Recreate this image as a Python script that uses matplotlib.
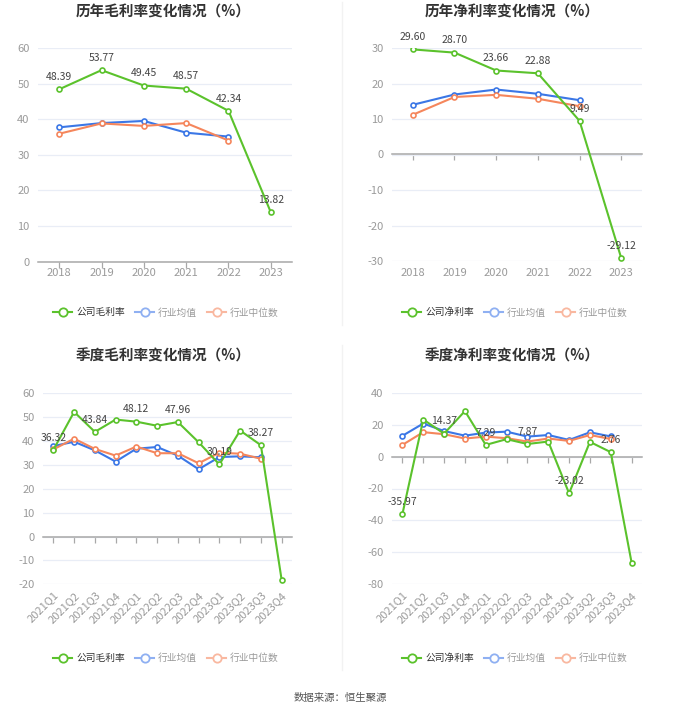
import matplotlib
matplotlib.use("Agg")
import matplotlib.pyplot as plt
from matplotlib.lines import Line2D

plt.rcParams['font.family'] = ['Noto Sans CJK SC', 'DejaVu Sans']
plt.rcParams['axes.unicode_minus'] = False

# ---------------- data ----------------
years = ['2018', '2019', '2020', '2021', '2022', '2023']
gm_company = [48.39, 53.77, 49.45, 48.57, 42.34, 13.82]
gm_mean = [37.7, 38.9, 39.5, 36.2, 35.1]
gm_median = [35.9, 38.8, 38.1, 38.9, 34.0]

nm_company = [29.60, 28.70, 23.66, 22.88, 9.49, -29.12]
nm_mean = [14.0, 16.9, 18.3, 17.1, 15.3]
nm_median = [11.2, 16.2, 16.8, 15.7, 13.6]

quarters = ['2021Q1', '2021Q2', '2021Q3', '2021Q4', '2022Q1', '2022Q2',
            '2022Q3', '2022Q4', '2023Q1', '2023Q2', '2023Q3', '2023Q4']
qgm_company = [36.32, 52.2, 43.84, 49.0, 48.12, 46.4, 47.96, 39.5, 30.19, 44.4, 38.27, -18.1]
qgm_mean = [37.9, 39.7, 36.1, 31.4, 36.8, 37.5, 33.9, 28.2, 33.3, 33.6, 33.2]
qgm_median = [36.5, 41.0, 36.7, 33.9, 37.7, 34.9, 34.9, 30.7, 35.1, 34.7, 32.6]

qnm_company = [-35.97, 23.2, 14.37, 28.5, 7.29, 10.9, 7.87, 9.4, -23.02, 9.2, 2.76, -66.4]
qnm_mean = [13.0, 20.7, 16.0, 13.1, 15.0, 15.6, 12.5, 13.5, 10.4, 15.2, 12.6]
qnm_median = [7.3, 15.3, 14.0, 11.3, 12.5, 11.5, 9.4, 11.3, 9.8, 13.5, 11.0]

titles = ['历年毛利率变化情况（%）', '历年净利率变化情况（%）',
          '季度毛利率变化情况（%）', '季度净利率变化情况（%）']
company_names = ['公司毛利率', '公司净利率', '公司毛利率', '公司净利率']
mean_name = '行业均值'
median_name = '行业中位数'
source = '数据来源：恒生聚源'

GREEN = '#5bc22c'
BLUE = '#3b77e6'
ORANGE = '#f5865c'
GREEN_L = '#5bc22c'
BLUE_L = '#8fb0f2'
ORANGE_L = '#f9b8a0'

W, H = 680, 712
fig = plt.figure(figsize=(W / 100, H / 100), dpi=100)
fig.patch.set_facecolor('white')


def frac_box(l, r, t, b):
    return [l / W, 1 - b / H, (r - l) / W, (b - t) / H]


panels = [
    dict(box=frac_box(38, 292, 48, 261.5), cats=years, comp=gm_company, mean=gm_mean,
         med=gm_median, ylim=(0, 60), yt=range(0, 61, 10), label_every=1, rot=False,
         tx=163, ty=12, ly=312.5, lx=166),
    dict(box=frac_box(392, 642, 48, 261), cats=years, comp=nm_company, mean=nm_mean,
         med=nm_median, ylim=(-30, 30), yt=range(-30, 31, 10), label_every=1, rot=False,
         tx=512, ty=12, ly=312.5, lx=515),
    dict(box=frac_box(43, 292, 393.3, 584.3), cats=quarters, comp=qgm_company, mean=qgm_mean,
         med=qgm_median, ylim=(-20, 60), yt=range(-20, 61, 10), label_every=2, rot=True,
         tx=163, ty=356, ly=658, lx=166),
    dict(box=frac_box(392, 642, 392.7, 584.3), cats=quarters, comp=qnm_company, mean=qnm_mean,
         med=qnm_median, ylim=(-80, 40), yt=range(-80, 41, 20), label_every=2, rot=True,
         tx=512, ty=356, ly=658, lx=515),
]

for i, p in enumerate(panels):
    ax = fig.add_axes(p['box'])
    n = len(p['cats'])
    xs = list(range(n))
    ax.set_xlim(-0.5, n - 0.5)
    ax.set_ylim(*p['ylim'])
    ax.set_yticks(list(p['yt']))
    ax.grid(axis='y', color='#e9edf6', lw=0.9)
    ax.set_axisbelow(True)
    for s in ['left', 'right', 'bottom']:
        ax.spines[s].set_visible(False)
    ax.spines['top'].set_position(('data', 0))
    ax.spines['top'].set_color('#a8a8a8')
    ax.spines['top'].set_linewidth(1.1)
    ax.spines['top'].set_zorder(2)
    ax.tick_params(axis='y', length=0, labelsize=8, labelcolor='#9a9a9a', pad=6)
    ax.set_xticks(xs)
    ax.tick_params(axis='x', which='both', bottom=False, top=True, labeltop=False,
                   labelbottom=True, direction='in', length=4, width=0.9,
                   color='#a8a8a8', labelsize=8, labelcolor='#9a9a9a', pad=5)
    if p['rot']:
        ax.set_xticklabels(p['cats'], rotation=45, ha='right', rotation_mode='anchor')
        ax.tick_params(axis='x', pad=4)
    else:
        ax.set_xticklabels(p['cats'])

    mk = dict(marker='o', markersize=3.6, markerfacecolor='white', markeredgewidth=1.2)
    ax.plot(xs[:len(p['mean'])], p['mean'], color=BLUE, lw=1.5, zorder=3, **mk)
    ax.plot(xs[:len(p['med'])], p['med'], color=ORANGE, lw=1.5, zorder=3, **mk)
    ax.plot(xs, p['comp'], color=GREEN, lw=1.5, zorder=4, **mk)

    for j, v in enumerate(p['comp']):
        if j % p['label_every'] == 0:
            ax.annotate(f'{v:.2f}', (xs[j], v), xytext=(0, 8.8), textcoords='offset points',
                        ha='center', va='center', fontsize=7.5, color='#444444', zorder=6)

    fig.text(p['tx'] / W, 1 - p['ty'] / H, titles[i], ha='center', va='center',
             fontsize=10.5, fontweight='bold', color='#333333')

    lm = dict(marker='o', markersize=6, markerfacecolor='white', markeredgewidth=1.3, lw=1.5)
    handles = [Line2D([], [], color=GREEN_L, **lm),
               Line2D([], [], color=BLUE_L, **lm),
               Line2D([], [], color=ORANGE_L, **lm)]
    leg = fig.legend(handles, [company_names[i], mean_name, median_name],
                     loc='center', bbox_to_anchor=(p['lx'] / W, 1 - p['ly'] / H),
                     ncol=3, frameon=False, fontsize=7, handlelength=2.0,
                     handletextpad=0.4, columnspacing=1.0)
    cols = ['#333333', '#999999', '#999999']
    for t, c in zip(leg.get_texts(), cols):
        t.set_color(c)

# faint panel separators
fig.add_artist(Line2D([342 / W, 342 / W], [1 - 2 / H, 1 - 325 / H], color='#f2f2f2', lw=1))
fig.add_artist(Line2D([342 / W, 342 / W], [1 - 345 / H, 1 - 670 / H], color='#f2f2f2', lw=1))

fig.text(340 / W, 1 - 698 / H, source, ha='center', va='center', fontsize=7.5, color='#555555')

fig.savefig('out.png', dpi=100, facecolor='white')
